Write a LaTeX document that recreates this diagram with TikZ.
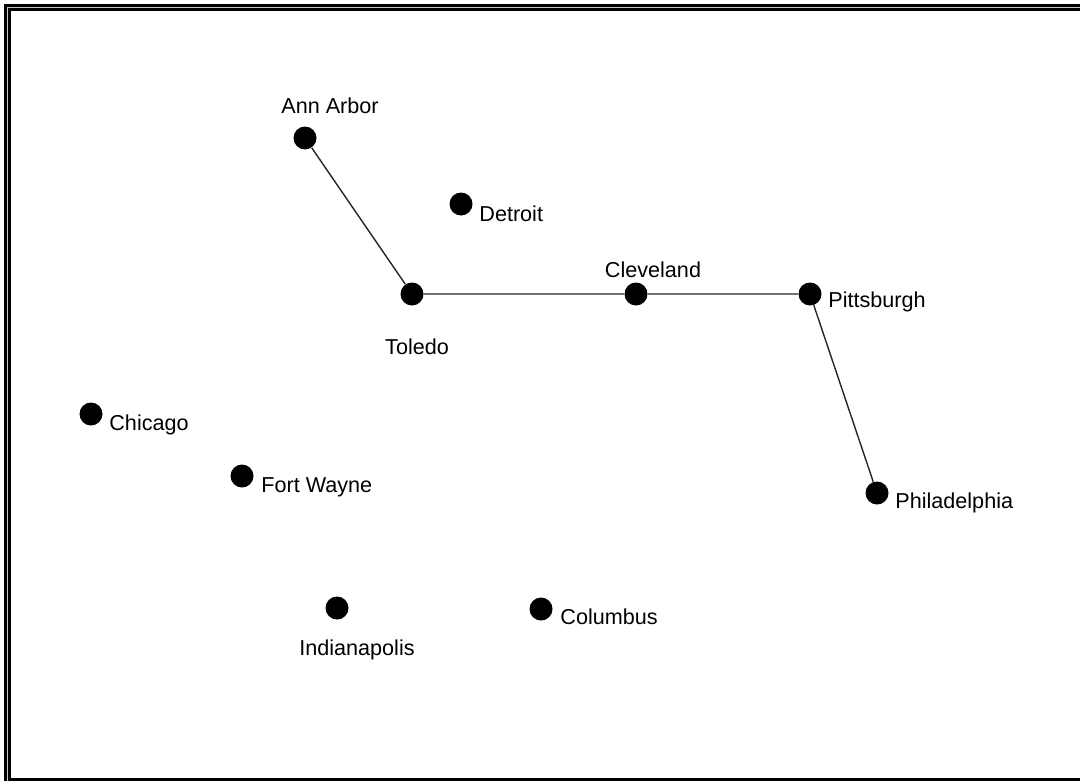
\documentclass[tikz,border=0pt]{standalone}
\usepackage{fontspec}
\setmainfont{Liberation Sans}
\usetikzlibrary{positioning}

\tikzset{
  city/.style={circle, fill=black, inner sep=0pt, minimum size=11.5pt},
  cityname/.style={inner sep=0pt, font=\fontsize{10.8}{13}\selectfont},
  road/.style={line width=0.7pt, black!85}
}

\begin{document}
\begin{tikzpicture}[x=0.5pt, y=-0.5pt]
  \useasboundingbox (0,0) rectangle (1080,781);
  % frame: grey band between two black rules on the left and top
  \fill[black!22] (4,4) rectangle (1080,781);
  \fill[white] (9.5,9.5) rectangle (1080,779);
  \draw[line width=1.1pt] (5.5,781) -- (5.5,5.5) -- (1080,5.5);
  \draw[line width=1.1pt] (1080,9.5) -- (9.5,9.5) -- (9.5,779.5) -- (1080,779.5);

  % cities
  \node[city] (annarbor)     at (305,138) {};
  \node[city] (detroit)      at (461,204) {};
  \node[city] (toledo)       at (412,294) {};
  \node[city] (cleveland)    at (636,294) {};
  \node[city] (pittsburgh)   at (810,294) {};
  \node[city] (chicago)      at (91,414)  {};
  \node[city] (fortwayne)    at (242,476) {};
  \node[city] (philadelphia) at (877,493) {};
  \node[city] (indianapolis) at (337,608) {};
  \node[city] (columbus)     at (541,609) {};

  % names
  \node[cityname, anchor=base]      (annarbor-n)     at (330,113) {Ann Arbor};
  \node[cityname, anchor=base west] (detroit-n)      at (479,221) {Detroit};
  \node[cityname, anchor=base]      (toledo-n)       at (417,354) {Toledo};
  \node[cityname, anchor=base]      (cleveland-n)    at (653,277) {Cleveland};
  \node[cityname, anchor=base west] (pittsburgh-n)   at (828,307) {Pittsburgh};
  \node[cityname, anchor=base west] (chicago-n)      at (109,430) {Chicago};
  \node[cityname, anchor=base west] (fortwayne-n)    at (261,492) {Fort Wayne};
  \node[cityname, anchor=base west] (philadelphia-n) at (895,508) {Philadelphia};
  \node[cityname, anchor=base]      (indianapolis-n) at (357,655) {Indianapolis};
  \node[cityname, anchor=base west] (columbus-n)     at (560,624) {Columbus};

  % route
  \draw[road] (annarbor) -- (toledo) -- (cleveland) -- (pittsburgh) -- (philadelphia);
\end{tikzpicture}
\end{document}
